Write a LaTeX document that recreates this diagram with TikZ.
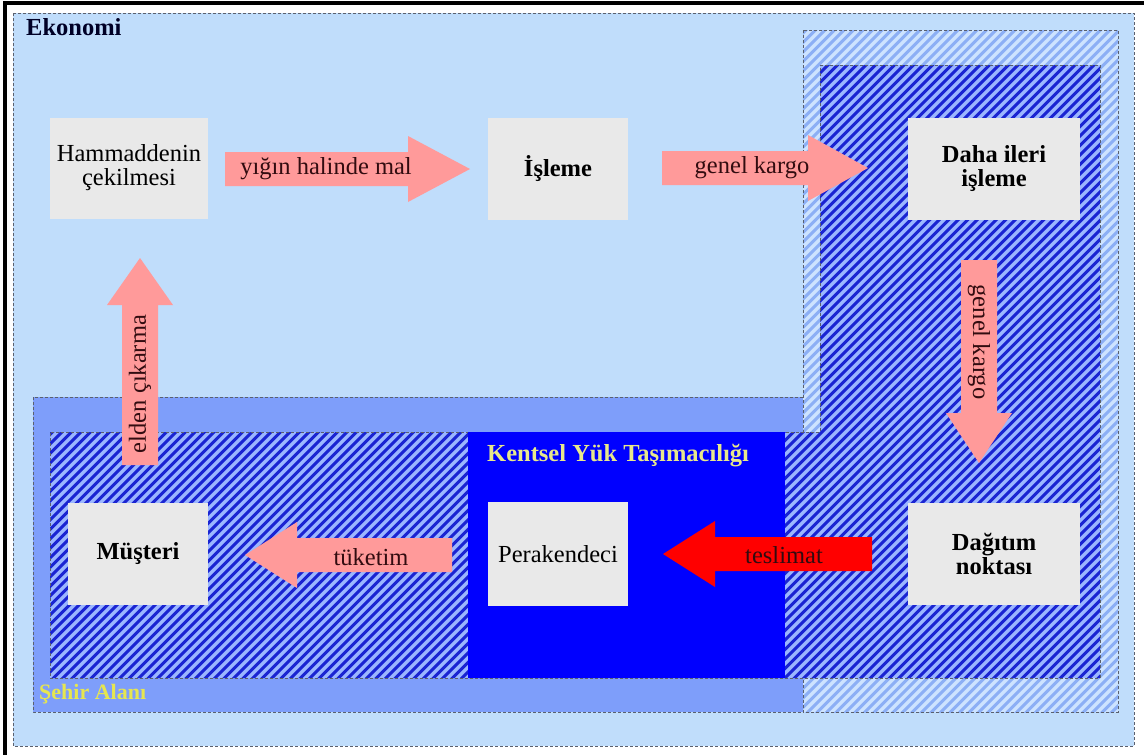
\documentclass[tikz,border=0pt]{standalone}
\usepackage{fontspec}
\setmainfont{Liberation Serif}

\definecolor{econbg}{RGB}{192,221,251}
\definecolor{citybg}{RGB}{126,158,250}
\definecolor{ufbg}{RGB}{0,0,255}
\definecolor{hatchdarkA}{RGB}{26,36,210}
\definecolor{hatchdarkB}{RGB}{155,182,255}
\definecolor{hatchlightA}{RGB}{140,175,245}
\definecolor{hatchlightB}{RGB}{205,227,255}
\definecolor{boxfill}{RGB}{233,233,233}
\definecolor{flowpink}{RGB}{255,154,154}
\definecolor{flowred}{RGB}{255,0,0}
\definecolor{flowtext}{RGB}{50,12,16}
\definecolor{edgegray}{RGB}{90,96,110}
\definecolor{ufyellow}{RGB}{232,232,140}
\definecolor{cityyellow}{RGB}{230,230,80}

% diagonal stripes inside a closed region: #1 path, #2 ground, #3 stripe colour
\newcommand\stripes[3]{%
  \begin{scope}
    \clip #1;
    \fill[#2] #1;
    \foreach \c in {0,9.5,...,1910}
      \draw[#3,line width=3.1pt] (\c,0) -- ({\c-760},760);
  \end{scope}}

% horizontal block arrow: #1 style, #2 tail x, #3 tip x, #4 axis y, #5 signed head length
\newcommand\harrow[5]{%
  \fill[#1] (#2,{#4-17}) -- ({#3-(#5)},{#4-17}) -- ({#3-(#5)},{#4-33}) -- (#3,#4)
    -- ({#3-(#5)},{#4+33}) -- ({#3-(#5)},{#4+17}) -- (#2,{#4+17}) -- cycle;}

% vertical block arrow: #1 style, #2 axis x, #3 tail y, #4 tip y, #5 signed head length
\newcommand\varrow[5]{%
  \fill[#1] ({#2-18},#3) -- ({#2-18},{#4-(#5)}) -- ({#2-33},{#4-(#5)}) -- (#2,#4)
    -- ({#2+33},{#4-(#5)}) -- ({#2+18},{#4-(#5)}) -- ({#2+18},#3) -- cycle;}

\newcommand\bodyfont{\fontsize{24.5}{24}\selectfont}

\tikzset{
  zone/.style={draw=edgegray, line width=1pt, dash pattern=on 3pt off 2pt},
  stage/.style={fill=boxfill, inner sep=0pt, align=center, text=black, font=\bodyfont},
  stagebold/.style={stage, font=\bodyfont\bfseries},
  flowlabel/.style={inner sep=0pt, text=flowtext, font=\bodyfont},
}

\begin{document}
\begin{tikzpicture}[x=1pt, y=-1pt]
\useasboundingbox (0,0) rectangle (1144,755);
\fill[white] (0,0) rectangle (1144,755);
\draw[black, line width=4pt] (5,755) -- (5,3) -- (1144,3);

% economy
\fill[econbg] (13,13) rectangle (1134,746);
\draw[zone] (13,13) rectangle (1134,746);

% city area
\fill[citybg] (33,397) rectangle (803,712);
\draw[zone] (33,397) rectangle (803,712);

% light striped column
\stripes{(803,30) rectangle (1118,712)}{hatchlightB}{hatchlightA}
\draw[zone] (803,30) rectangle (1118,712);

% dark striped L-shaped band
\stripes{(820,65) -- (1100,65) -- (1100,678) -- (50,678) -- (50,432) -- (820,432) -- cycle}{hatchdarkB}{hatchdarkA}
\draw[zone] (820,65) -- (1100,65) -- (1100,678) -- (50,678) -- (50,432) -- (820,432) -- cycle;

% urban freight
\fill[ufbg] (468,432) rectangle (785,678);

% region labels
\node[anchor=west, inner sep=0pt, text=black!85!blue, font=\bodyfont\bfseries] (eko) at (26,27) {Ekonomi};
\node[anchor=west, inner sep=0pt, text=ufyellow, font=\bodyfont\bfseries] (kyt) at (487,456) {Kentsel Yük Taşımacılığı};
\node[anchor=west, inner sep=0pt, text=cityyellow, font=\fontsize{22}{22}\selectfont\bfseries] (sehir) at (39,694) {Şehir Alanı};

% stages
\node[stage, minimum width=158pt, minimum height=101pt] (ham) at (129,168) {Hammaddenin\\çekilmesi};
\node[stagebold, minimum width=140pt, minimum height=102pt] (isl) at (558,169) {İşleme};
\node[stagebold, minimum width=172pt, minimum height=102pt] (daha) at (994,169) {Daha ileri\\işleme};
\node[stagebold, minimum width=172pt, minimum height=102pt] (dag) at (994,554) {Dağıtım\\noktası};
\node[stage, minimum width=140pt, minimum height=104pt] (per) at (558,554) {Perakendeci};
\node[stagebold, minimum width=140pt, minimum height=102pt] (mus) at (138,554) {Müşteri};

% flows
\harrow{flowpink}{225}{470}{169}{62}
\harrow{flowpink}{662}{868}{168}{60}
\varrow{flowpink}{979}{260}{463}{50}
\harrow{flowred}{872}{663}{554}{-52}
\harrow{flowpink}{452}{245}{555}{-52}
\varrow{flowpink}{140}{465}{258}{-47}

\node[flowlabel] (f1) at (326,169) {yığın halinde mal};
\node[flowlabel] (f2) at (752,168) {genel kargo};
\node[flowlabel, rotate=-90] (f3) at (979,342) {genel kargo};
\node[flowlabel] (f4) at (784,555) {teslimat};
\node[flowlabel] (f5) at (371,557) {tüketim};
\node[flowlabel, rotate=90] (f6) at (140,384) {elden çıkarma};
\end{tikzpicture}
\end{document}
